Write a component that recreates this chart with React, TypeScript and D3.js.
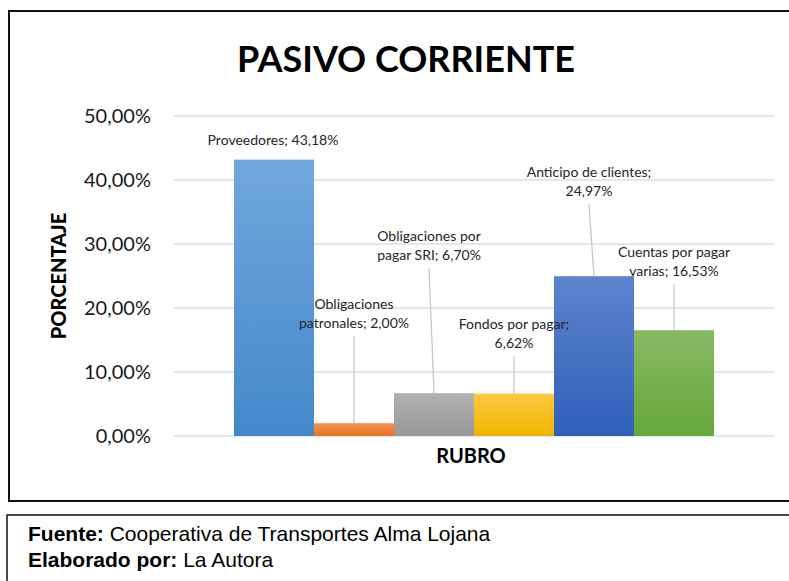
import React, { useRef, useEffect } from 'react'
import * as d3 from 'd3'

// data
const rubros = [
  'Proveedores',
  'Obligaciones patronales',
  'Obligaciones por pagar SRI',
  'Fondos por pagar',
  'Anticipo de clientes',
  'Cuentas por pagar varias',
]
const porcentajes = [43.18, 2.0, 6.7, 6.62, 24.97, 16.53]
const etiquetas = [
  ['Proveedores; 43,18%'],
  ['Obligaciones', 'patronales; 2,00%'],
  ['Obligaciones por', 'pagar SRI; 6,70%'],
  ['Fondos por pagar;', '6,62%'],
  ['Anticipo de clientes;', '24,97%'],
  ['Cuentas por pagar', 'varias; 16,53%'],
]
const yTicks = [0, 10, 20, 30, 40, 50]

// styling / layout
const colores = [
  ['#70a7dd', '#4488ca'],
  ['#f4934f', '#ec7020'],
  ['#b2b2b2', '#979797'],
  ['#ffc940', '#efb400'],
  ['#5d83cd', '#2f5eb8'],
  ['#88b965', '#66a739'],
]
// label placement: x offset from bar centre, y of first line centre (px), leader?
const labelLayout = [
  { dx: -1, y: 140, leader: false },
  { dx: 0, y: 304, leader: true },
  { dx: -5, y: 236, leader: true },
  { dx: 0, y: 324, leader: true },
  { dx: -5, y: 172, leader: true },
  { dx: 0, y: 252, leader: true },
]

const W = 789
const H = 581

export default function App() {
  const ref = useRef<SVGSVGElement>(null)

  useEffect(() => {
    const svg = d3.select(ref.current)
    svg.selectAll('*').remove()

    const margin = { left: 174, right: 15, top: 116, bottom: 145 }
    const x = d3.scaleBand()
      .domain(rubros)
      .range([margin.left, W - margin.right])
      .paddingInner(0)
      .paddingOuter(0.75)
    const y = d3.scaleLinear().domain([0, 50]).range([H - margin.bottom, margin.top])
    const cx = (i: number) => (x(rubros[i]) as number) + x.bandwidth() / 2

    const defs = svg.append('defs')
    colores.forEach((c, i) => {
      const g = defs.append('linearGradient')
        .attr('id', 'grad' + i)
        .attr('x1', 0).attr('y1', 0).attr('x2', 0).attr('y2', 1)
      g.append('stop').attr('offset', '0%').attr('stop-color', c[0])
      g.append('stop').attr('offset', '100%').attr('stop-color', c[1])
    })

    // frames
    svg.append('rect')
      .attr('x', 9).attr('y', 11).attr('width', 800).attr('height', 490)
      .attr('fill', 'none').attr('stroke', '#111').attr('stroke-width', 2)
    svg.append('rect')
      .attr('x', 7).attr('y', 515).attr('width', 800).attr('height', 100)
      .attr('fill', 'none').attr('stroke', '#111').attr('stroke-width', 1.5)

    // title
    svg.append('text')
      .attr('x', 406).attr('y', 72)
      .attr('text-anchor', 'middle')
      .style('font-family', 'Lato, sans-serif')
      .style('font-weight', 700)
      .style('font-size', '36px')
      .attr('fill', '#000')
      .text('PASIVO CORRIENTE')

    // grid + y labels
    const axis = svg.append('g')
    axis.selectAll('line')
      .data(yTicks)
      .enter()
      .append('line')
      .attr('x1', margin.left).attr('x2', W - margin.right)
      .attr('y1', d => y(d)).attr('y2', d => y(d))
      .attr('stroke', '#d9dfe9')
      .attr('stroke-width', 1.5)
    axis.selectAll('text')
      .data(yTicks)
      .enter()
      .append('text')
      .attr('x', 151)
      .attr('y', d => y(d))
      .attr('dy', '0.35em')
      .attr('text-anchor', 'end')
      .style('font-family', 'Lato, sans-serif')
      .style('font-size', '20px')
      .attr('fill', '#1a1a1a')
      .text(d => d3.format('.2f')(d).replace('.', ',') + '%')

    // bars
    svg.append('g')
      .selectAll('rect')
      .data(porcentajes)
      .enter()
      .append('rect')
      .attr('x', (d, i) => x(rubros[i]) as number)
      .attr('y', d => y(d))
      .attr('width', x.bandwidth())
      .attr('height', d => y(0) - y(d))
      .attr('fill', (d, i) => `url(#grad${i})`)

    // leader lines
    const withLeader = d3.range(rubros.length).filter(i => labelLayout[i].leader)
    svg.append('g')
      .selectAll('line')
      .data(withLeader)
      .enter()
      .append('line')
      .attr('x1', i => cx(i) + labelLayout[i].dx)
      .attr('y1', i => labelLayout[i].y + (etiquetas[i].length - 1) * 19 + 13)
      .attr('x2', i => cx(i))
      .attr('y2', i => y(porcentajes[i]))
      .attr('stroke', '#bcc6d6')
      .attr('stroke-width', 1.2)

    // data labels
    const lbl = svg.append('g')
      .style('font-family', 'Lato, sans-serif')
      .style('font-size', '14px')
      .attr('fill', '#262626')
      .attr('text-anchor', 'middle')
    etiquetas.forEach((lines, i) => {
      lines.forEach((t, j) => {
        lbl.append('text')
          .attr('x', cx(i) + labelLayout[i].dx)
          .attr('y', labelLayout[i].y + j * 19)
          .attr('dy', '0.35em')
          .text(t)
      })
    })

    // axis titles
    svg.append('text')
      .attr('transform', 'translate(66,276) rotate(-90)')
      .attr('text-anchor', 'middle')
      .style('font-family', 'Lato, sans-serif')
      .style('font-weight', 900)
      .style('font-size', '20px')
      .attr('fill', '#000')
      .text('PORCENTAJE')
    svg.append('text')
      .attr('x', 471).attr('y', 463)
      .attr('text-anchor', 'middle')
      .style('font-family', 'Lato, sans-serif')
      .style('font-weight', 700)
      .style('font-size', '20px')
      .attr('fill', '#000')
      .text('RUBRO')

    // source note
    const note = svg.append('g')
      .style('font-family', '"Liberation Sans", Arial, sans-serif')
      .style('font-size', '21px')
      .attr('fill', '#000')
    const n1 = note.append('text').attr('x', 28).attr('y', 541)
    n1.append('tspan').style('font-weight', 700).text('Fuente:')
    n1.append('tspan').text(' Cooperativa de Transportes Alma Lojana')
    const n2 = note.append('text').attr('x', 28).attr('y', 567)
    n2.append('tspan').style('font-weight', 700).text('Elaborado por:')
    n2.append('tspan').text(' La Autora')
  }, [])

  return (
    <svg
      ref={ref}
      width={W}
      height={H}
      style={{ position: 'absolute', left: 0, top: 0, background: '#fff' }}
    />
  )
}
